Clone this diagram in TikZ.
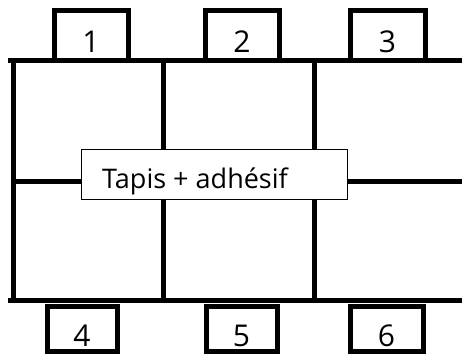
\documentclass[tikz,border=0pt]{standalone}
\usepackage{fontspec}
\setmainfont{Open Sans}
\begin{document}
\begin{tikzpicture}[x=1pt,y=-1pt,
  thick line/.style={line width=5pt,line cap=rect,line join=miter},
  digit/.style={font=\fontsize{30}{33}\selectfont,anchor=base,inner sep=0pt},
  labelbox/.style={draw,fill=white,line width=1.2pt,minimum width=266pt,minimum height=50pt,inner sep=0pt}]
\useasboundingbox (0,0) rectangle (462,356);
% grid lines
\draw[thick line] (10,60.5) -- (462,60.5);
\draw[thick line] (10,300) -- (462,300);
\draw[thick line] (13.5,60.5) -- (13.5,300);
\draw[thick line] (163,60.5) -- (163,300);
\draw[thick line] (314.5,60.5) -- (314.5,300);
\draw[thick line] (13.5,181) -- (462,181);
% top boxes
\draw[thick line] (54,60.5) -- (54,10.5) -- (128,10.5) -- (128,60.5);
\draw[thick line] (205,60.5) -- (205,10.5) -- (279,10.5) -- (279,60.5);
\draw[thick line] (350,60.5) -- (350,10.5) -- (425,10.5) -- (425,60.5);
% bottom boxes
\draw[thick line] (47,306) rectangle (117,351);
\draw[thick line] (206,306) rectangle (277,351);
\draw[thick line] (350,306) rectangle (423,351);
% digits
\node[digit] (b1) at (91,52) {1};
\node[digit] (b2) at (242,52) {2};
\node[digit] (b3) at (387.5,52) {3};
\node[digit] (b4) at (82,346) {4};
\node[digit] (b5) at (241.5,346) {5};
\node[digit] (b6) at (386.5,346) {6};
% label box
\node[labelbox] (lab) at (214.5,174.3) {};
\node[anchor=base west,inner sep=0pt,font=\fontsize{27}{30}\selectfont] (txt) at (102,188) {Tapis + adhésif};
\end{tikzpicture}
\end{document}
